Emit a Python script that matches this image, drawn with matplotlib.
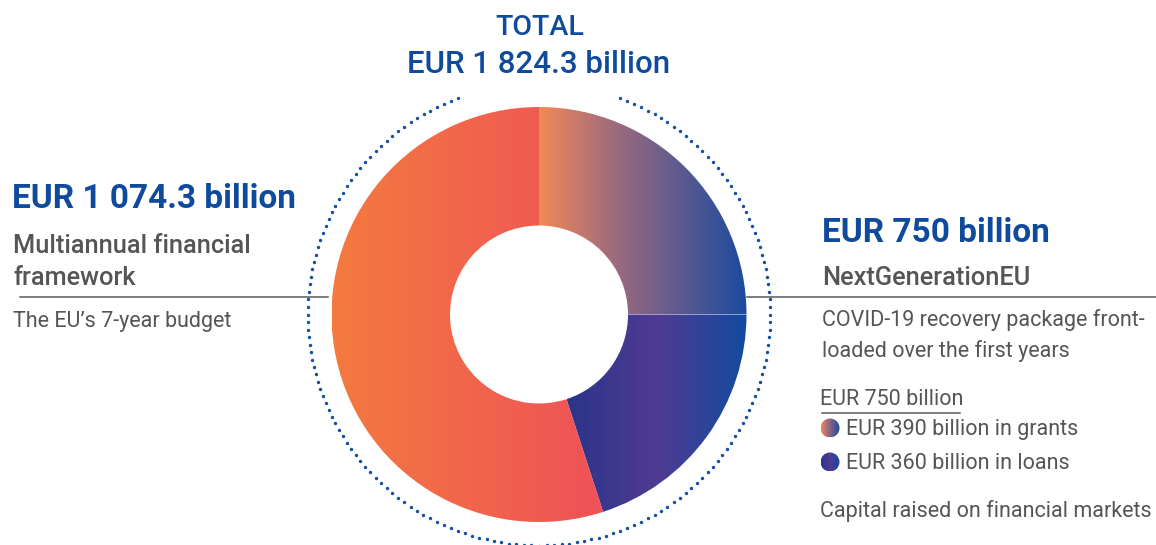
import numpy as np
import matplotlib
matplotlib.use("Agg")
import matplotlib.pyplot as plt
import matplotlib.patches as patches
from matplotlib.colors import LinearSegmentedColormap

plt.rcParams['font.family'] = ['Roboto', 'DejaVu Sans']

# data (share of the ring as drawn in the picture, in %)
segments = ['grants', 'loans', 'mff']
shares = [25, 20, 55]
amounts = ['EUR 390 billion in grants', 'EUR 360 billion in loans']
total_label = 'EUR 1 824.3 billion'
mff_label = 'EUR 1 074.3 billion'
ngeu_label = 'EUR 750 billion'

W, H = 1156, 545
BLUE = '#0f4a9c'
GREY = '#555555'
FS = 15.5  # body text size

fig = plt.figure(figsize=(W / 100, H / 100), dpi=100)
ax = fig.add_axes([0, 0, 1, 1])

def py(y):
    # pixel row (from top) -> data y
    return H - y

# colour ramps, left to right
cmaps = {
    'mff': LinearSegmentedColormap.from_list('mff', ['#f47a3f', '#ef5158']),
    'grants': LinearSegmentedColormap.from_list('gr', ['#f28955', '#a46d7b', '#5f5a8f', '#1b4b9f']),
    'loans': LinearSegmentedColormap.from_list('lo', ['#2a3589', '#503a93', '#124b9f']),
}
grad = np.linspace(0, 1, 256).reshape(1, -1)

def fill_gradient(patch, cmap):
    ext = patch.get_path().get_extents(patch.get_patch_transform())
    im = ax.imshow(grad, extent=[ext.x0, ext.x1, ext.y0, ext.y1], cmap=cmap,
                   aspect='auto', interpolation='bilinear', zorder=2)
    im.set_clip_path(patch)

# donut
cx, cy = 539, py(314.5)
R, r_in = 207.5, 89
wedges, _ = ax.pie(shares, startangle=90, counterclock=False, radius=R,
                   center=(cx, cy), frame=True,
                   wedgeprops=dict(width=R - r_in, facecolor='none', edgecolor='none'))
for w, name in zip(wedges, segments):
    fill_gradient(w, cmaps[name])

# dotted ring with a gap at the top for the title
rd = 231
ang = np.arange(0, 360, 1.875)
ang = ang[(ang < 70) | (ang > 110)]
ax.scatter(cx + rd * np.cos(np.radians(ang)), cy + rd * np.sin(np.radians(ang)),
           s=6, color='#1450a0', linewidths=0, zorder=3)

# separator lines
ax.plot([20, 328], [py(297), py(297)], color='#5a5a5a', lw=1.1, zorder=1)
ax.plot([747, W], [py(297), py(297)], color='#5a5a5a', lw=1.1, zorder=1)
ax.plot([822, 960], [py(413), py(413)], color='#5a5a5a', lw=1.1, zorder=1)

# title
ax.text(540, py(35), 'TOTAL', ha='center', va='baseline', fontsize=20.5,
        color=BLUE, fontweight='medium')
ax.text(539, py(73), total_label, ha='center', va='baseline', fontsize=22.5,
        color=BLUE, fontweight='medium')

# left block
ax.text(12, py(208), mff_label, ha='left', va='baseline', fontsize=24,
        color=BLUE, fontweight='bold')
ax.text(13, py(253), 'Multiannual financial', ha='left', va='baseline',
        fontsize=18.3, color=GREY, fontweight='medium')
ax.text(13, py(285), 'framework', ha='left', va='baseline',
        fontsize=18.3, color=GREY, fontweight='medium')
ax.text(13, py(327), 'The EU\u2019s 7-year budget', ha='left', va='baseline',
        fontsize=FS, color=GREY)

# right block
ax.text(822, py(242), ngeu_label, ha='left', va='baseline', fontsize=24,
        color=BLUE, fontweight='bold')
ax.text(822, py(285), 'NextGenerationEU', ha='left', va='baseline',
        fontsize=18.3, color=GREY, fontweight='medium')
ax.text(822, py(326), 'COVID-19 recovery package front-', ha='left',
        va='baseline', fontsize=FS, color=GREY)
ax.text(822, py(357), 'loaded over the first years', ha='left',
        va='baseline', fontsize=FS, color=GREY)
ax.text(820, py(405), ngeu_label, ha='left', va='baseline',
        fontsize=FS, color=GREY)

# legend rows with gradient dots
for name, label, yy in zip(segments[:2], amounts, [428, 462]):
    dot = patches.Circle((830, py(yy)), 9.5, facecolor='none', edgecolor='none')
    ax.add_patch(dot)
    fill_gradient(dot, cmaps[name])
    ax.text(846, py(yy + 7), label, ha='left', va='baseline',
            fontsize=FS, color=GREY)

ax.text(820, py(517), 'Capital raised on financial markets', ha='left',
        va='baseline', fontsize=FS, color=GREY)

ax.set_xlim(0, W)
ax.set_ylim(0, H)
ax.set_aspect('equal')
ax.axis('off')

fig.savefig('out.png', dpi=100)
